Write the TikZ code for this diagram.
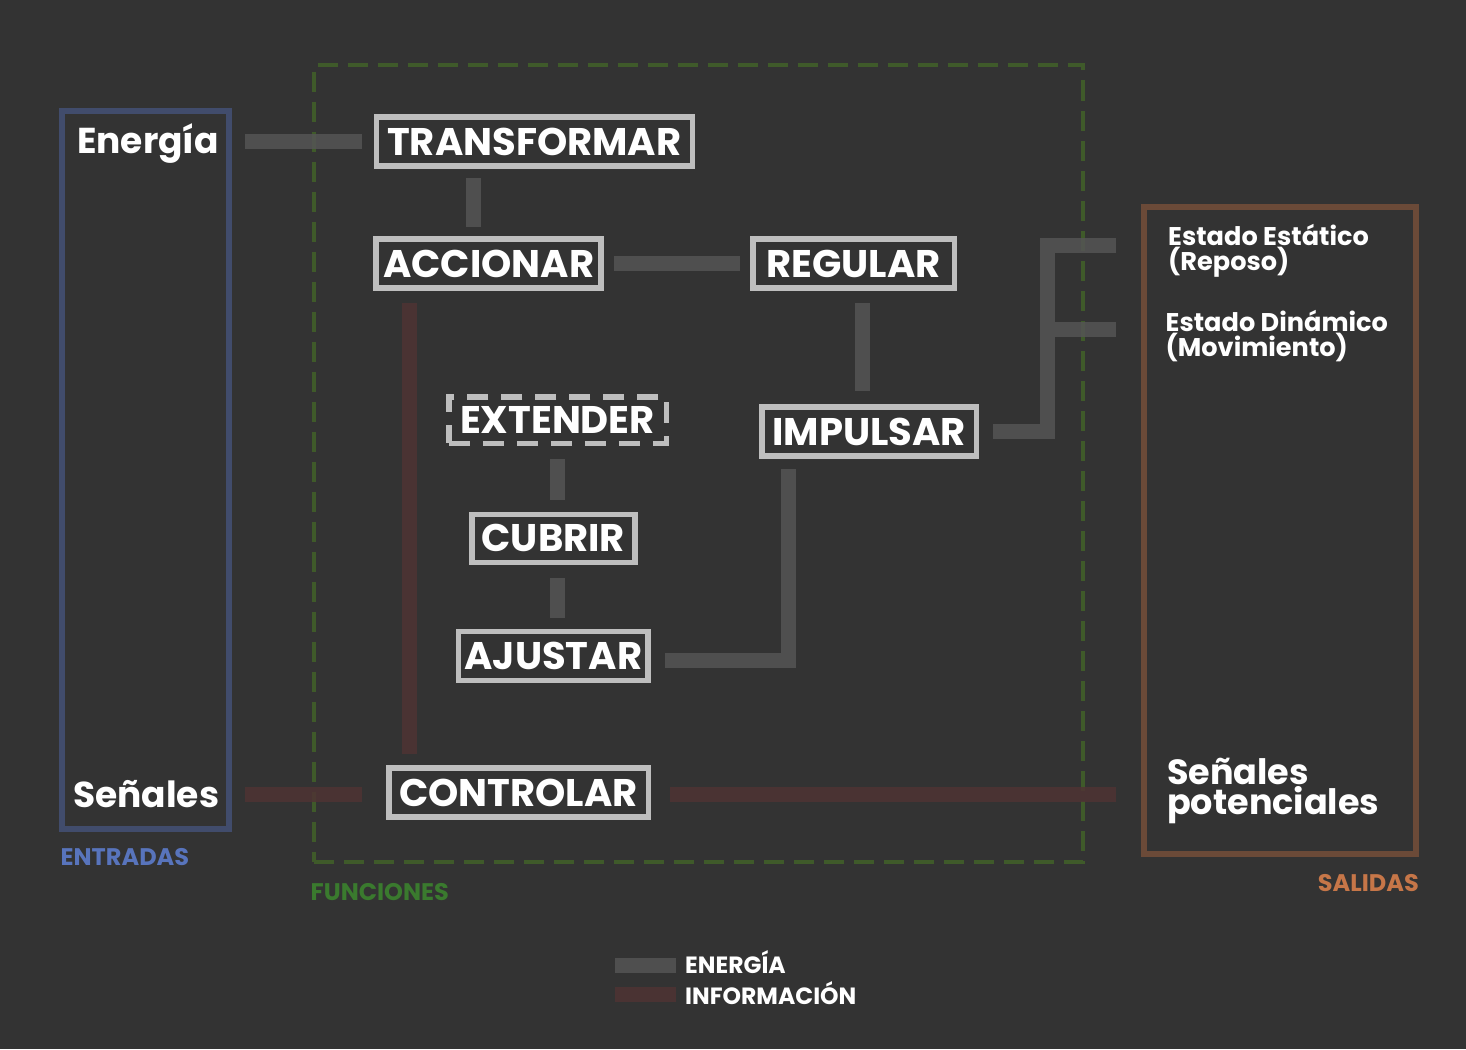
\documentclass[tikz,border=0pt]{standalone}
\usepackage{fontspec}
\setmainfont{Poppins}
\usepackage{tikz}
\usetikzlibrary{calc, positioning}

\definecolor{fondo}{HTML}{333333}
\definecolor{marco}{HTML}{BEBEBE}
\definecolor{lineaE}{HTML}{555555}
\definecolor{lineaI}{HTML}{4F3434}
\definecolor{azul}{HTML}{414C6C}
\definecolor{azulT}{HTML}{5874BC}
\definecolor{verde}{HTML}{3F5A2A}
\definecolor{verdeT}{HTML}{3A7A2E}
\definecolor{cafe}{HTML}{6B4A38}
\definecolor{cafeT}{HTML}{C67648}

\tikzstyle{funcion} = [rectangle, draw=marco, line width=5.5pt, text=white, inner sep=0pt, minimum height=49pt, font=\bfseries\fontsize{38.5}{38.5}\selectfont]
\tikzstyle{grupo} = [rectangle, draw, line width=6pt, inner sep=0pt]
\tikzstyle{energia} = [draw=lineaE, draw opacity=0.85, line width=15pt]
\tikzstyle{informacion} = [draw=lineaI, draw opacity=0.85, line width=15pt]
\tikzstyle{titulo} = [anchor=base west, inner sep=0pt, text=white, font=\bfseries\fontsize{36}{26}\selectfont, align=left]
\tikzstyle{salida} = [anchor=base west, inner sep=0pt, text=white, font=\bfseries\fontsize{25.6}{23}\selectfont, align=left]
\tikzstyle{etiqueta} = [inner sep=0pt, font=\bfseries\fontsize{24}{24}\selectfont]

\begin{document}
\begin{tikzpicture}[x=1pt, y=-1pt]
        \useasboundingbox (0, 0) rectangle (1466, 1049);
        \fill[fondo] (0, 0) rectangle (1466, 1049);

        % grupos
        \node[grupo, draw=azul, minimum width=166.7pt, minimum height=717.7pt] at (145.7, 469.9) (ENTRADAS) {};
        \node[grupo, draw=verde, line width=4pt, dash pattern=on 20pt off 10pt, minimum width=769pt, minimum height=796pt] at (698.5, 463.5) (FUNCIONES) {};
        \node[grupo, draw=cafe, line width=6.5pt, minimum width=272pt, minimum height=647pt] at (1279.75, 530.25) (SALIDAS) {};
        \node[etiqueta, anchor=base west, text=azulT] at (60.5, 865) (lblEntradas) {ENTRADAS};
        \node[etiqueta, anchor=base west, text=verdeT] at (310.5, 900) (lblFunciones) {FUNCIONES};
        \node[etiqueta, anchor=base east, text=cafeT] at (1419, 891) (lblSalidas) {SALIDAS};

        % entradas y salidas
        \node[titulo] at (77, 153) (Energia) {Energía};
        \node[titulo] at (73, 807) (Senales) {Señales};
        \node[salida] at (1168, 270) (Estatico) {Estado Estático\\(Reposo)};
        \node[salida] at (1165.5, 356) (Dinamico) {Estado Dinámico\\(Movimiento)};
        \node[titulo, font=\bfseries\fontsize{35}{26}\selectfont] at (1167, 814) (Potenciales) {Señales\\potenciales};

        % funciones
        \node[funcion, minimum width=316pt] at (534.25, 141.6) (TRANSFORMAR) {TRANSFORMAR};
        \node[funcion, minimum width=225pt] at (488.7, 263.5) (ACCIONAR) {ACCIONAR};
        \node[funcion, minimum width=201.5pt] at (853.5, 263.5) (REGULAR) {REGULAR};
        \node[funcion, dash pattern=on 21pt off 13pt, minimum width=217.5pt, minimum height=46.5pt] at (557.5, 420) (EXTENDER) {EXTENDER};
        \node[funcion, minimum width=214.5pt] at (869, 431.5) (IMPULSAR) {IMPULSAR};
        \node[funcion, minimum width=163pt, minimum height=48pt] at (553.3, 538.3) (CUBRIR) {CUBRIR};
        \node[funcion, minimum width=189.8pt] at (553.3, 656) (AJUSTAR) {AJUSTAR};
        \node[funcion, minimum width=259.5pt] at (518.5, 792.5) (CONTROLAR) {CONTROLAR};

        \coordinate (REPOSO) at (1116, 245);
        \coordinate (MOVIMIENTO) at (1116, 329.5);

        % energia
        \draw[energia] ($(ENTRADAS.east |- TRANSFORMAR.west)+(13, 0)$) -- ($(TRANSFORMAR.west)+(-12, 0)$);
        \draw[energia] ($(TRANSFORMAR.south)+(-61.25, 9)$) -- ($(ACCIONAR.north)+(-15.7, -9)$);
        \draw[energia] ($(ACCIONAR.east)+(10, 0)$) -- ($(REGULAR.west)+(-10, 0)$);
        \draw[energia] ($(REGULAR.south)+(8.5, 12)$) -- ($(IMPULSAR.north)+(-7, -13)$);
        \draw[energia] ($(EXTENDER.south)+(-0.5, 13)$) -- ($(CUBRIR.north)+(3.7, -12)$);
        \draw[energia] ($(CUBRIR.south)+(3.7, 13)$) -- ($(AJUSTAR.north)+(3.7, -11)$);
        \draw[energia] ($(AJUSTAR.east)+(14, 4)$) -| ($(IMPULSAR.south)+(-81, 10)$);
        \draw[energia] ($(IMPULSAR.east)+(14, 0)$) -| ($(REPOSO)+(-69, 0)$) -- (REPOSO);
        \draw[energia] ($(MOVIMIENTO)+(-61.5, 0)$) -- (MOVIMIENTO);

        % informacion
        \draw[informacion] ($(ACCIONAR.south)+(-79.7, 12)$) -- ($(CONTROLAR.north)+(-109.5, -11)$);
        \draw[informacion] ($(ENTRADAS.east |- CONTROLAR.west)+(13, 2)$) -- ($(CONTROLAR.west)+(-24, 2)$);
        \draw[informacion] ($(CONTROLAR.east)+(19, 2)$) -- ($(SALIDAS.west |- CONTROLAR.east)+(-24.5, 2)$);

        % leyenda
        \node[etiqueta, anchor=base west, text=white, font=\bfseries\fontsize{23.5}{23.5}\selectfont] at (685, 973.3) (leyEnergia) {ENERGÍA};
        \node[etiqueta, anchor=base west, text=white, font=\bfseries\fontsize{23.5}{23.5}\selectfont] at (685, 1004) (leyInfo) {INFORMACIÓN};
        \draw[energia, line width=14.4pt] (615, 965.5) -- (675.5, 965.5);
        \draw[informacion, line width=14.4pt] (615, 994.5) -- (675.5, 994.5);
    \end{tikzpicture}
\end{document}
